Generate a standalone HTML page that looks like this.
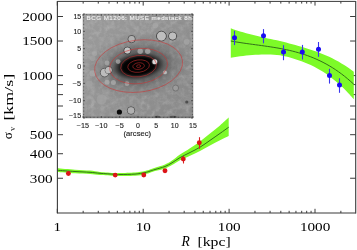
<!DOCTYPE html>
<html><head><meta charset="utf-8"><style>
html,body{margin:0;padding:0;background:#fff;width:357px;height:250px;overflow:hidden}
svg{display:block;will-change:transform}
.ax{font-family:"Liberation Serif",serif;font-size:12.8px;fill:#000}
.ins{font-family:"Liberation Sans",sans-serif;font-size:6.8px;fill:#222;stroke:#222;stroke-width:0.12px}
</style></head><body>
<svg width="357" height="250" viewBox="0 0 357 250">
<defs>
<radialGradient id="halo" cx="0.5" cy="0.5" r="0.5">
<stop offset="0" stop-color="#000"/>
<stop offset="0.55" stop-color="#040404"/>
<stop offset="0.7" stop-color="#262626"/>
<stop offset="0.85" stop-color="#4a4a4a" stop-opacity="0.8"/>
<stop offset="1" stop-color="#666" stop-opacity="0"/>
</radialGradient>
<radialGradient id="halo2" cx="0.5" cy="0.5" r="0.5">
<stop offset="0" stop-color="#000" stop-opacity="0.42"/>
<stop offset="0.55" stop-color="#000" stop-opacity="0.17"/>
<stop offset="1" stop-color="#000" stop-opacity="0"/>
</radialGradient>
<radialGradient id="src" cx="0.5" cy="0.5" r="0.5">
<stop offset="0" stop-color="#d8d8d8"/>
<stop offset="0.65" stop-color="#cfcfcf"/>
<stop offset="0.85" stop-color="#6a6a6a"/>
<stop offset="1" stop-color="#8a8a8a" stop-opacity="0"/>
</radialGradient>
<linearGradient id="bg" x1="0" y1="0.2" x2="1" y2="0.8">
<stop offset="0" stop-color="#9a9a9a"/>
<stop offset="1" stop-color="#888888"/>
</linearGradient>
<filter id="noise" x="0" y="0" width="1" height="1">
<feTurbulence type="fractalNoise" baseFrequency="0.2" numOctaves="3" seed="7" result="t"/>
<feColorMatrix type="matrix" values="0 0 0 0 0.35  0 0 0 0 0.35  0 0 0 0 0.35  0.3 0.3 0.3 0 -0.37" result="n"/>
<feComposite in="n" in2="SourceGraphic" operator="in"/>
</filter>
<filter id="noise2" x="0" y="0" width="1" height="1">
<feTurbulence type="fractalNoise" baseFrequency="0.2" numOctaves="3" seed="11" result="t"/>
<feColorMatrix type="matrix" values="0 0 0 0 0.85  0 0 0 0 0.85  0 0 0 0 0.85  0.25 0.25 0.25 0 -0.335" result="n"/>
<feComposite in="n" in2="SourceGraphic" operator="in"/>
</filter>
<radialGradient id="halo3" cx="0.5" cy="0.5" r="0.5">
<stop offset="0" stop-color="#000" stop-opacity="0.4"/>
<stop offset="0.6" stop-color="#000" stop-opacity="0.2"/>
<stop offset="1" stop-color="#000" stop-opacity="0"/>
</radialGradient>
<clipPath id="insclip"><rect x="83" y="14" width="110" height="104"/></clipPath>
</defs>

<line x1="57.30" y1="213.0" x2="57.30" y2="208.8" stroke="#3a3a3a" stroke-width="1"/>
<line x1="57.30" y1="1.4" x2="57.30" y2="5.6" stroke="#3a3a3a" stroke-width="1"/>
<line x1="83.16" y1="213.0" x2="83.16" y2="210.8" stroke="#3a3a3a" stroke-width="1"/>
<line x1="83.16" y1="1.4" x2="83.16" y2="3.6" stroke="#3a3a3a" stroke-width="1"/>
<line x1="98.28" y1="213.0" x2="98.28" y2="210.8" stroke="#3a3a3a" stroke-width="1"/>
<line x1="98.28" y1="1.4" x2="98.28" y2="3.6" stroke="#3a3a3a" stroke-width="1"/>
<line x1="109.02" y1="213.0" x2="109.02" y2="210.8" stroke="#3a3a3a" stroke-width="1"/>
<line x1="109.02" y1="1.4" x2="109.02" y2="3.6" stroke="#3a3a3a" stroke-width="1"/>
<line x1="117.34" y1="213.0" x2="117.34" y2="210.8" stroke="#3a3a3a" stroke-width="1"/>
<line x1="117.34" y1="1.4" x2="117.34" y2="3.6" stroke="#3a3a3a" stroke-width="1"/>
<line x1="124.14" y1="213.0" x2="124.14" y2="210.8" stroke="#3a3a3a" stroke-width="1"/>
<line x1="124.14" y1="1.4" x2="124.14" y2="3.6" stroke="#3a3a3a" stroke-width="1"/>
<line x1="129.89" y1="213.0" x2="129.89" y2="210.8" stroke="#3a3a3a" stroke-width="1"/>
<line x1="129.89" y1="1.4" x2="129.89" y2="3.6" stroke="#3a3a3a" stroke-width="1"/>
<line x1="134.88" y1="213.0" x2="134.88" y2="210.8" stroke="#3a3a3a" stroke-width="1"/>
<line x1="134.88" y1="1.4" x2="134.88" y2="3.6" stroke="#3a3a3a" stroke-width="1"/>
<line x1="139.27" y1="213.0" x2="139.27" y2="210.8" stroke="#3a3a3a" stroke-width="1"/>
<line x1="139.27" y1="1.4" x2="139.27" y2="3.6" stroke="#3a3a3a" stroke-width="1"/>
<line x1="143.20" y1="213.0" x2="143.20" y2="208.8" stroke="#3a3a3a" stroke-width="1"/>
<line x1="143.20" y1="1.4" x2="143.20" y2="5.6" stroke="#3a3a3a" stroke-width="1"/>
<line x1="169.06" y1="213.0" x2="169.06" y2="210.8" stroke="#3a3a3a" stroke-width="1"/>
<line x1="169.06" y1="1.4" x2="169.06" y2="3.6" stroke="#3a3a3a" stroke-width="1"/>
<line x1="184.18" y1="213.0" x2="184.18" y2="210.8" stroke="#3a3a3a" stroke-width="1"/>
<line x1="184.18" y1="1.4" x2="184.18" y2="3.6" stroke="#3a3a3a" stroke-width="1"/>
<line x1="194.92" y1="213.0" x2="194.92" y2="210.8" stroke="#3a3a3a" stroke-width="1"/>
<line x1="194.92" y1="1.4" x2="194.92" y2="3.6" stroke="#3a3a3a" stroke-width="1"/>
<line x1="203.24" y1="213.0" x2="203.24" y2="210.8" stroke="#3a3a3a" stroke-width="1"/>
<line x1="203.24" y1="1.4" x2="203.24" y2="3.6" stroke="#3a3a3a" stroke-width="1"/>
<line x1="210.04" y1="213.0" x2="210.04" y2="210.8" stroke="#3a3a3a" stroke-width="1"/>
<line x1="210.04" y1="1.4" x2="210.04" y2="3.6" stroke="#3a3a3a" stroke-width="1"/>
<line x1="215.79" y1="213.0" x2="215.79" y2="210.8" stroke="#3a3a3a" stroke-width="1"/>
<line x1="215.79" y1="1.4" x2="215.79" y2="3.6" stroke="#3a3a3a" stroke-width="1"/>
<line x1="220.78" y1="213.0" x2="220.78" y2="210.8" stroke="#3a3a3a" stroke-width="1"/>
<line x1="220.78" y1="1.4" x2="220.78" y2="3.6" stroke="#3a3a3a" stroke-width="1"/>
<line x1="225.17" y1="213.0" x2="225.17" y2="210.8" stroke="#3a3a3a" stroke-width="1"/>
<line x1="225.17" y1="1.4" x2="225.17" y2="3.6" stroke="#3a3a3a" stroke-width="1"/>
<line x1="229.10" y1="213.0" x2="229.10" y2="208.8" stroke="#3a3a3a" stroke-width="1"/>
<line x1="229.10" y1="1.4" x2="229.10" y2="5.6" stroke="#3a3a3a" stroke-width="1"/>
<line x1="254.96" y1="213.0" x2="254.96" y2="210.8" stroke="#3a3a3a" stroke-width="1"/>
<line x1="254.96" y1="1.4" x2="254.96" y2="3.6" stroke="#3a3a3a" stroke-width="1"/>
<line x1="270.08" y1="213.0" x2="270.08" y2="210.8" stroke="#3a3a3a" stroke-width="1"/>
<line x1="270.08" y1="1.4" x2="270.08" y2="3.6" stroke="#3a3a3a" stroke-width="1"/>
<line x1="280.82" y1="213.0" x2="280.82" y2="210.8" stroke="#3a3a3a" stroke-width="1"/>
<line x1="280.82" y1="1.4" x2="280.82" y2="3.6" stroke="#3a3a3a" stroke-width="1"/>
<line x1="289.14" y1="213.0" x2="289.14" y2="210.8" stroke="#3a3a3a" stroke-width="1"/>
<line x1="289.14" y1="1.4" x2="289.14" y2="3.6" stroke="#3a3a3a" stroke-width="1"/>
<line x1="295.94" y1="213.0" x2="295.94" y2="210.8" stroke="#3a3a3a" stroke-width="1"/>
<line x1="295.94" y1="1.4" x2="295.94" y2="3.6" stroke="#3a3a3a" stroke-width="1"/>
<line x1="301.69" y1="213.0" x2="301.69" y2="210.8" stroke="#3a3a3a" stroke-width="1"/>
<line x1="301.69" y1="1.4" x2="301.69" y2="3.6" stroke="#3a3a3a" stroke-width="1"/>
<line x1="306.68" y1="213.0" x2="306.68" y2="210.8" stroke="#3a3a3a" stroke-width="1"/>
<line x1="306.68" y1="1.4" x2="306.68" y2="3.6" stroke="#3a3a3a" stroke-width="1"/>
<line x1="311.07" y1="213.0" x2="311.07" y2="210.8" stroke="#3a3a3a" stroke-width="1"/>
<line x1="311.07" y1="1.4" x2="311.07" y2="3.6" stroke="#3a3a3a" stroke-width="1"/>
<line x1="315.00" y1="213.0" x2="315.00" y2="208.8" stroke="#3a3a3a" stroke-width="1"/>
<line x1="315.00" y1="1.4" x2="315.00" y2="5.6" stroke="#3a3a3a" stroke-width="1"/>
<line x1="340.86" y1="213.0" x2="340.86" y2="210.8" stroke="#3a3a3a" stroke-width="1"/>
<line x1="340.86" y1="1.4" x2="340.86" y2="3.6" stroke="#3a3a3a" stroke-width="1"/>
<line x1="57.4" y1="16.51" x2="63.0" y2="16.51" stroke="#3a3a3a" stroke-width="1"/>
<line x1="355.7" y1="16.51" x2="350.09999999999997" y2="16.51" stroke="#3a3a3a" stroke-width="1"/>
<line x1="57.4" y1="41.03" x2="63.0" y2="41.03" stroke="#3a3a3a" stroke-width="1"/>
<line x1="355.7" y1="41.03" x2="350.09999999999997" y2="41.03" stroke="#3a3a3a" stroke-width="1"/>
<line x1="57.4" y1="75.60" x2="63.0" y2="75.60" stroke="#3a3a3a" stroke-width="1"/>
<line x1="355.7" y1="75.60" x2="350.09999999999997" y2="75.60" stroke="#3a3a3a" stroke-width="1"/>
<line x1="57.4" y1="84.58" x2="63.0" y2="84.58" stroke="#3a3a3a" stroke-width="1"/>
<line x1="355.7" y1="84.58" x2="350.09999999999997" y2="84.58" stroke="#3a3a3a" stroke-width="1"/>
<line x1="57.4" y1="94.62" x2="63.0" y2="94.62" stroke="#3a3a3a" stroke-width="1"/>
<line x1="355.7" y1="94.62" x2="350.09999999999997" y2="94.62" stroke="#3a3a3a" stroke-width="1"/>
<line x1="57.4" y1="106.01" x2="63.0" y2="106.01" stroke="#3a3a3a" stroke-width="1"/>
<line x1="355.7" y1="106.01" x2="350.09999999999997" y2="106.01" stroke="#3a3a3a" stroke-width="1"/>
<line x1="57.4" y1="119.15" x2="63.0" y2="119.15" stroke="#3a3a3a" stroke-width="1"/>
<line x1="355.7" y1="119.15" x2="350.09999999999997" y2="119.15" stroke="#3a3a3a" stroke-width="1"/>
<line x1="57.4" y1="134.69" x2="63.0" y2="134.69" stroke="#3a3a3a" stroke-width="1"/>
<line x1="355.7" y1="134.69" x2="350.09999999999997" y2="134.69" stroke="#3a3a3a" stroke-width="1"/>
<line x1="57.4" y1="153.72" x2="63.0" y2="153.72" stroke="#3a3a3a" stroke-width="1"/>
<line x1="355.7" y1="153.72" x2="350.09999999999997" y2="153.72" stroke="#3a3a3a" stroke-width="1"/>
<line x1="57.4" y1="178.24" x2="63.0" y2="178.24" stroke="#3a3a3a" stroke-width="1"/>
<line x1="355.7" y1="178.24" x2="350.09999999999997" y2="178.24" stroke="#3a3a3a" stroke-width="1"/>
<polygon points="230.80,28.28 233.88,29.39 236.95,30.44 240.03,31.42 243.10,32.35 246.18,33.23 249.25,34.06 252.33,34.86 255.40,35.62 258.48,36.35 261.55,37.05 264.62,37.73 267.70,38.40 270.78,39.06 273.85,39.72 276.93,40.37 280.00,41.03 283.07,41.80 286.15,42.59 289.23,43.40 292.30,44.23 295.38,45.09 298.45,45.98 301.52,46.86 304.60,47.73 307.68,48.65 310.75,49.63 313.83,50.66 316.90,51.75 319.98,52.91 323.05,54.15 326.12,55.47 329.20,56.86 332.27,58.35 335.35,59.93 338.43,61.61 341.50,63.39 344.58,65.28 347.65,67.28 350.73,69.40 353.80,71.64 353.80,99.24 350.73,95.75 347.65,92.43 344.58,89.29 341.50,86.32 338.43,83.52 335.35,80.88 332.27,78.39 329.20,76.06 326.12,73.87 323.05,71.83 319.98,69.94 316.90,68.18 313.83,66.55 310.75,65.05 307.68,63.68 304.60,62.44 301.52,61.30 298.45,60.21 295.38,59.15 292.30,58.19 289.23,57.34 286.15,56.59 283.07,55.92 280.00,55.35 276.93,55.02 273.85,54.77 270.78,54.60 267.70,54.51 264.62,54.48 261.55,54.52 258.48,54.63 255.40,54.79 252.33,55.00 249.25,55.27 246.18,55.58 243.10,55.94 240.03,56.33 236.95,56.76 233.88,57.22 230.80,57.71" fill="#7dfa28"/>
<polyline points="230.80,41.00 233.88,41.55 236.95,42.07 240.03,42.56 243.10,43.03 246.18,43.47 249.25,43.90 252.33,44.32 255.40,44.74 258.48,45.15 261.55,45.57 264.62,46.00 267.70,46.44 270.78,46.90 273.85,47.39 276.93,47.90 280.00,48.45 283.07,49.03 286.15,49.66 289.23,50.34 292.30,51.07 295.38,51.86 298.45,52.71 301.52,53.63 304.60,54.62 307.68,55.69 310.75,56.84 313.83,58.08 316.90,59.41 319.98,60.83 323.05,62.36 326.12,63.99 329.20,65.74 332.27,67.60 335.35,69.58 338.43,71.69 341.50,73.93 344.58,76.30 347.65,78.82 350.73,81.48 353.80,84.29" fill="none" stroke="#32701a" stroke-width="1.0"/>
<path d="M57.00,168.30 C60.00,168.53 69.50,169.32 75.00,169.70 C80.50,170.08 85.83,170.23 90.00,170.60 C94.17,170.97 95.83,171.50 100.00,171.90 C104.17,172.30 111.67,172.80 115.00,173.00 C118.33,173.20 116.67,173.17 120.00,173.10 C123.33,173.03 130.83,172.95 135.00,172.60 C139.17,172.25 142.50,171.52 145.00,171.00 C147.50,170.48 148.33,170.03 150.00,169.50 C151.67,168.97 152.50,168.62 155.00,167.80 C157.50,166.98 162.17,165.80 165.00,164.60 C167.83,163.40 169.50,162.27 172.00,160.60 C174.50,158.93 177.00,156.67 180.00,154.60 C183.00,152.53 186.67,150.40 190.00,148.20 C193.33,146.00 196.67,143.83 200.00,141.40 C203.33,138.97 206.67,136.27 210.00,133.60 C213.33,130.93 216.88,128.07 220.00,125.40 C223.12,122.73 227.25,118.90 228.70,117.60 L228.70,136.00 C227.25,136.70 223.12,138.60 220.00,140.20 C216.88,141.80 213.33,143.80 210.00,145.60 C206.67,147.40 203.33,149.32 200.00,151.00 C196.67,152.68 193.33,154.17 190.00,155.70 C186.67,157.23 183.00,158.65 180.00,160.20 C177.00,161.75 174.50,163.63 172.00,165.00 C169.50,166.37 167.83,167.38 165.00,168.40 C162.17,169.42 157.50,170.38 155.00,171.10 C152.50,171.82 151.67,172.18 150.00,172.70 C148.33,173.22 147.50,173.68 145.00,174.20 C142.50,174.72 139.17,175.50 135.00,175.80 C130.83,176.10 123.33,176.00 120.00,176.00 C116.67,176.00 118.33,175.98 115.00,175.80 C111.67,175.62 104.17,175.20 100.00,174.90 C95.83,174.60 94.17,174.28 90.00,174.00 C85.83,173.72 80.50,173.55 75.00,173.20 C69.50,172.85 60.00,172.12 57.00,171.90 Z" fill="#7dfa28"/>
<path d="M57.00,170.30 C60.00,170.50 69.50,171.17 75.00,171.50 C80.50,171.83 85.83,172.00 90.00,172.30 C94.17,172.60 95.83,172.97 100.00,173.30 C104.17,173.63 111.67,174.10 115.00,174.30 C118.33,174.50 116.67,174.53 120.00,174.50 C123.33,174.47 130.83,174.42 135.00,174.10 C139.17,173.78 142.50,173.10 145.00,172.60 C147.50,172.10 148.33,171.62 150.00,171.10 C151.67,170.58 152.50,170.27 155.00,169.50 C157.50,168.73 162.17,167.62 165.00,166.50 C167.83,165.38 169.50,164.28 172.00,162.80 C174.50,161.32 177.00,159.32 180.00,157.60 C183.00,155.88 186.67,154.23 190.00,152.50 C193.33,150.77 196.67,149.22 200.00,147.20 C203.33,145.18 206.67,142.70 210.00,140.40 C213.33,138.10 216.88,135.60 220.00,133.40 C223.12,131.20 227.25,128.23 228.70,127.20" fill="none" stroke="#32701a" stroke-width="1.0"/>
<line x1="234.5" y1="30.8" x2="234.5" y2="45.1" stroke="#3a36ee" stroke-width="1.1"/>
<circle cx="234.5" cy="37.8" r="2.5" fill="#1a0cf2"/>
<line x1="263.5" y1="29.1" x2="263.5" y2="43.3" stroke="#3a36ee" stroke-width="1.1"/>
<circle cx="263.5" cy="35.7" r="2.5" fill="#1a0cf2"/>
<line x1="283.5" y1="45.2" x2="283.5" y2="60.2" stroke="#3a36ee" stroke-width="1.1"/>
<circle cx="283.5" cy="52.1" r="2.5" fill="#1a0cf2"/>
<line x1="302.5" y1="44.9" x2="302.5" y2="59.5" stroke="#3a36ee" stroke-width="1.1"/>
<circle cx="302.3" cy="51.9" r="2.5" fill="#1a0cf2"/>
<line x1="318.5" y1="42" x2="318.5" y2="56.8" stroke="#3a36ee" stroke-width="1.1"/>
<circle cx="318.5" cy="49.3" r="2.5" fill="#1a0cf2"/>
<line x1="329.5" y1="68.8" x2="329.5" y2="83.6" stroke="#3a36ee" stroke-width="1.1"/>
<circle cx="329.5" cy="75.6" r="2.5" fill="#1a0cf2"/>
<line x1="339.5" y1="78.3" x2="339.5" y2="92.8" stroke="#3a36ee" stroke-width="1.1"/>
<circle cx="339.5" cy="85.1" r="2.5" fill="#1a0cf2"/>
<circle cx="68.4" cy="173.5" r="2.45" fill="#dc1418"/>
<circle cx="115.2" cy="175.1" r="2.45" fill="#dc1418"/>
<circle cx="143.8" cy="175" r="2.45" fill="#dc1418"/>
<circle cx="165" cy="170.7" r="2.45" fill="#dc1418"/>
<line x1="183.5" y1="156" x2="183.5" y2="163.5" stroke="#d82020" stroke-width="1.1"/>
<circle cx="183.3" cy="159.1" r="2.45" fill="#dc1418"/>
<line x1="199.5" y1="137.2" x2="199.5" y2="148.8" stroke="#d82020" stroke-width="1.1"/>
<circle cx="199.3" cy="142.8" r="2.45" fill="#dc1418"/>
<g clip-path="url(#insclip)">
<rect x="83" y="14" width="110" height="104" fill="url(#bg)"/>
<rect x="83" y="14" width="110" height="104" fill="#888" filter="url(#noise)"/>
<rect x="83" y="14" width="110" height="104" fill="#888" filter="url(#noise2)"/>
<ellipse cx="138.6" cy="66.1" rx="54" ry="33" transform="rotate(-7 138.6 66.1)" fill="url(#halo2)"/>
<ellipse cx="139.1" cy="66.1" rx="37" ry="21.5" transform="rotate(-7 138.6 66.1)" fill="url(#halo3)"/>
<ellipse cx="138.6" cy="66.1" rx="28" ry="14.5" transform="rotate(-7 138.6 66.1)" fill="url(#halo)"/>
<circle cx="161.4" cy="36.1" r="4.8999999999999995" fill="none" stroke="#3c3c3c" stroke-width="0.9" opacity="0.95"/>
<circle cx="161.4" cy="36.1" r="4.3999999999999995" fill="#bebebe"/>
<circle cx="172.6" cy="36.1" r="4.0" fill="none" stroke="#3c3c3c" stroke-width="0.9" opacity="0.95"/>
<circle cx="172.6" cy="36.1" r="3.5" fill="#bebebe"/>
<circle cx="131.6" cy="39.1" r="3.5999999999999996" fill="none" stroke="#3c3c3c" stroke-width="0.9" opacity="0.85"/>
<circle cx="131.6" cy="39.1" r="3.0999999999999996" fill="#b0b0b0"/>
<circle cx="127.4" cy="50.6" r="3.5" fill="none" stroke="#3c3c3c" stroke-width="0.9" opacity="0.9"/>
<circle cx="127.4" cy="50.6" r="3.0" fill="#c4c4c4"/>
<circle cx="140.2" cy="51.2" r="2.7" fill="#b4b4b4" opacity="0.7"/>
<circle cx="147.7" cy="51.2" r="2.7" fill="#b4b4b4" opacity="0.7"/>
<circle cx="154.8" cy="61.8" r="3.0" fill="none" stroke="#3c3c3c" stroke-width="0.9" opacity="0.8"/>
<circle cx="154.8" cy="61.8" r="2.5" fill="#d8d8d8"/>
<circle cx="118.1" cy="61.6" r="2.4" fill="#b2b2b2" opacity="0.7"/>
<circle cx="155.3" cy="25.6" r="2.8" fill="#a8a8a8" opacity="0.7"/>
<circle cx="186.7" cy="41.9" r="2.8" fill="#a8a8a8" opacity="0.7"/>
<circle cx="94.5" cy="53.6" r="2.6" fill="#a8a8a8" opacity="0.7"/>
<circle cx="107" cy="63" r="2.4" fill="#acacac" opacity="0.7"/>
<circle cx="92.6" cy="73.4" r="3.2" fill="#acacac" opacity="0.7"/>
<circle cx="104.6" cy="72.6" r="4.3" fill="none" stroke="#3c3c3c" stroke-width="0.9" opacity="0.6"/>
<circle cx="104.6" cy="72.6" r="3.8" fill="#bcbcbc"/>
<circle cx="108.6" cy="70.2" r="3.5999999999999996" fill="none" stroke="#3c3c3c" stroke-width="0.9" opacity="0.6"/>
<circle cx="108.6" cy="70.2" r="3.0999999999999996" fill="#bcbcbc"/>
<circle cx="89.4" cy="83.8" r="3.2" fill="#a4a4a4" opacity="0.7"/>
<circle cx="92.6" cy="58.2" r="2.8" fill="#a2a2a2" opacity="0.7"/>
<circle cx="107" cy="82.2" r="2.5" fill="#b0b0b0" opacity="0.7"/>
<circle cx="113.4" cy="82.5" r="2.5" fill="#b0b0b0" opacity="0.7"/>
<circle cx="127" cy="83.7" r="2.4" fill="#aeaeae" opacity="0.7"/>
<circle cx="131" cy="110.5" r="3.6999999999999997" fill="none" stroke="#3c3c3c" stroke-width="0.9" opacity="0.8"/>
<circle cx="131" cy="110.5" r="3.1999999999999997" fill="#b0b0b0"/>
<circle cx="176" cy="88" r="2.6" fill="#a0a0a0" opacity="0.7"/>
<circle cx="165" cy="72.4" r="1.9" fill="#d6d6d6" opacity="0.7"/>
<circle cx="101.6" cy="99.4" r="5" fill="#a2a2a2" opacity="0.7"/>
<circle cx="119.4" cy="112" r="2.6" fill="#0a0a0a"/>
<circle cx="186.8" cy="102" r="1.6" fill="#3a3a3a" opacity="0.75"/>
<circle cx="175.6" cy="88" r="3" fill="#9c9c9c" stroke="#555" stroke-width="0.7" opacity="0.7"/>
<rect x="83" y="116.2" width="110" height="1.8" fill="#555" opacity="0.35"/>
<ellipse cx="157.5" cy="117" rx="3" ry="1.2" fill="#333" opacity="0.6"/>
<ellipse cx="173" cy="117" rx="3.5" ry="1.2" fill="#333" opacity="0.6"/>
<ellipse cx="138.6" cy="66.1" rx="2.1" ry="1.3" transform="rotate(-7 138.6 66.1)" fill="none" stroke="#d03030" stroke-width="0.65" opacity="0.8"/>
<ellipse cx="138.6" cy="66.1" rx="5.8" ry="3.3" transform="rotate(-7 138.6 66.1)" fill="none" stroke="#d03030" stroke-width="0.65" opacity="0.8"/>
<ellipse cx="138.6" cy="66.1" rx="10.9" ry="6.2" transform="rotate(-7 138.6 66.1)" fill="none" stroke="#d03030" stroke-width="0.65" opacity="0.8"/>
<ellipse cx="138.6" cy="66.1" rx="18" ry="10.7" transform="rotate(-7 138.6 66.1)" fill="none" stroke="#d03030" stroke-width="0.65" opacity="0.8"/>
<ellipse cx="138.6" cy="66.1" rx="29" ry="17.5" transform="rotate(-7 138.6 66.1)" fill="none" stroke="#d03030" stroke-width="0.65" opacity="0.8"/>
<ellipse cx="138.6" cy="66.1" rx="44.2" ry="26" transform="rotate(-7 138.6 66.1)" fill="none" stroke="#d03030" stroke-width="0.65" opacity="0.8"/>
<text x="86.6" y="20.2" textLength="105" lengthAdjust="spacing" style="font-family:'Liberation Sans',sans-serif;font-size:6.2px;fill:#f0f0f0;stroke:#f0f0f0;stroke-width:0.15px">BCG M1206: MUSE medstack 8h</text>
</g>
<rect x="83" y="14" width="110" height="104" fill="none" stroke="#666" stroke-width="0.4"/>
<line x1="86.7" y1="118" x2="86.7" y2="116.8" stroke="#333" stroke-width="0.5"/>
<line x1="86.7" y1="14" x2="86.7" y2="15.2" stroke="#333" stroke-width="0.5"/>
<line x1="83" y1="114.5" x2="84.2" y2="114.5" stroke="#333" stroke-width="0.5"/>
<line x1="193" y1="114.5" x2="191.8" y2="114.5" stroke="#333" stroke-width="0.5"/>
<line x1="90.3" y1="118" x2="90.3" y2="116.8" stroke="#333" stroke-width="0.5"/>
<line x1="90.3" y1="14" x2="90.3" y2="15.2" stroke="#333" stroke-width="0.5"/>
<line x1="83" y1="111.1" x2="84.2" y2="111.1" stroke="#333" stroke-width="0.5"/>
<line x1="193" y1="111.1" x2="191.8" y2="111.1" stroke="#333" stroke-width="0.5"/>
<line x1="94.0" y1="118" x2="94.0" y2="116.8" stroke="#333" stroke-width="0.5"/>
<line x1="94.0" y1="14" x2="94.0" y2="15.2" stroke="#333" stroke-width="0.5"/>
<line x1="83" y1="107.6" x2="84.2" y2="107.6" stroke="#333" stroke-width="0.5"/>
<line x1="193" y1="107.6" x2="191.8" y2="107.6" stroke="#333" stroke-width="0.5"/>
<line x1="97.7" y1="118" x2="97.7" y2="116.8" stroke="#333" stroke-width="0.5"/>
<line x1="97.7" y1="14" x2="97.7" y2="15.2" stroke="#333" stroke-width="0.5"/>
<line x1="83" y1="104.1" x2="84.2" y2="104.1" stroke="#333" stroke-width="0.5"/>
<line x1="193" y1="104.1" x2="191.8" y2="104.1" stroke="#333" stroke-width="0.5"/>
<line x1="105.0" y1="118" x2="105.0" y2="116.8" stroke="#333" stroke-width="0.5"/>
<line x1="105.0" y1="14" x2="105.0" y2="15.2" stroke="#333" stroke-width="0.5"/>
<line x1="83" y1="97.2" x2="84.2" y2="97.2" stroke="#333" stroke-width="0.5"/>
<line x1="193" y1="97.2" x2="191.8" y2="97.2" stroke="#333" stroke-width="0.5"/>
<line x1="108.7" y1="118" x2="108.7" y2="116.8" stroke="#333" stroke-width="0.5"/>
<line x1="108.7" y1="14" x2="108.7" y2="15.2" stroke="#333" stroke-width="0.5"/>
<line x1="83" y1="93.7" x2="84.2" y2="93.7" stroke="#333" stroke-width="0.5"/>
<line x1="193" y1="93.7" x2="191.8" y2="93.7" stroke="#333" stroke-width="0.5"/>
<line x1="112.3" y1="118" x2="112.3" y2="116.8" stroke="#333" stroke-width="0.5"/>
<line x1="112.3" y1="14" x2="112.3" y2="15.2" stroke="#333" stroke-width="0.5"/>
<line x1="83" y1="90.3" x2="84.2" y2="90.3" stroke="#333" stroke-width="0.5"/>
<line x1="193" y1="90.3" x2="191.8" y2="90.3" stroke="#333" stroke-width="0.5"/>
<line x1="116.0" y1="118" x2="116.0" y2="116.8" stroke="#333" stroke-width="0.5"/>
<line x1="116.0" y1="14" x2="116.0" y2="15.2" stroke="#333" stroke-width="0.5"/>
<line x1="83" y1="86.8" x2="84.2" y2="86.8" stroke="#333" stroke-width="0.5"/>
<line x1="193" y1="86.8" x2="191.8" y2="86.8" stroke="#333" stroke-width="0.5"/>
<line x1="123.3" y1="118" x2="123.3" y2="116.8" stroke="#333" stroke-width="0.5"/>
<line x1="123.3" y1="14" x2="123.3" y2="15.2" stroke="#333" stroke-width="0.5"/>
<line x1="83" y1="79.9" x2="84.2" y2="79.9" stroke="#333" stroke-width="0.5"/>
<line x1="193" y1="79.9" x2="191.8" y2="79.9" stroke="#333" stroke-width="0.5"/>
<line x1="127.0" y1="118" x2="127.0" y2="116.8" stroke="#333" stroke-width="0.5"/>
<line x1="127.0" y1="14" x2="127.0" y2="15.2" stroke="#333" stroke-width="0.5"/>
<line x1="83" y1="76.4" x2="84.2" y2="76.4" stroke="#333" stroke-width="0.5"/>
<line x1="193" y1="76.4" x2="191.8" y2="76.4" stroke="#333" stroke-width="0.5"/>
<line x1="130.7" y1="118" x2="130.7" y2="116.8" stroke="#333" stroke-width="0.5"/>
<line x1="130.7" y1="14" x2="130.7" y2="15.2" stroke="#333" stroke-width="0.5"/>
<line x1="83" y1="72.9" x2="84.2" y2="72.9" stroke="#333" stroke-width="0.5"/>
<line x1="193" y1="72.9" x2="191.8" y2="72.9" stroke="#333" stroke-width="0.5"/>
<line x1="134.3" y1="118" x2="134.3" y2="116.8" stroke="#333" stroke-width="0.5"/>
<line x1="134.3" y1="14" x2="134.3" y2="15.2" stroke="#333" stroke-width="0.5"/>
<line x1="83" y1="69.5" x2="84.2" y2="69.5" stroke="#333" stroke-width="0.5"/>
<line x1="193" y1="69.5" x2="191.8" y2="69.5" stroke="#333" stroke-width="0.5"/>
<line x1="141.7" y1="118" x2="141.7" y2="116.8" stroke="#333" stroke-width="0.5"/>
<line x1="141.7" y1="14" x2="141.7" y2="15.2" stroke="#333" stroke-width="0.5"/>
<line x1="83" y1="62.5" x2="84.2" y2="62.5" stroke="#333" stroke-width="0.5"/>
<line x1="193" y1="62.5" x2="191.8" y2="62.5" stroke="#333" stroke-width="0.5"/>
<line x1="145.3" y1="118" x2="145.3" y2="116.8" stroke="#333" stroke-width="0.5"/>
<line x1="145.3" y1="14" x2="145.3" y2="15.2" stroke="#333" stroke-width="0.5"/>
<line x1="83" y1="59.1" x2="84.2" y2="59.1" stroke="#333" stroke-width="0.5"/>
<line x1="193" y1="59.1" x2="191.8" y2="59.1" stroke="#333" stroke-width="0.5"/>
<line x1="149.0" y1="118" x2="149.0" y2="116.8" stroke="#333" stroke-width="0.5"/>
<line x1="149.0" y1="14" x2="149.0" y2="15.2" stroke="#333" stroke-width="0.5"/>
<line x1="83" y1="55.6" x2="84.2" y2="55.6" stroke="#333" stroke-width="0.5"/>
<line x1="193" y1="55.6" x2="191.8" y2="55.6" stroke="#333" stroke-width="0.5"/>
<line x1="152.7" y1="118" x2="152.7" y2="116.8" stroke="#333" stroke-width="0.5"/>
<line x1="152.7" y1="14" x2="152.7" y2="15.2" stroke="#333" stroke-width="0.5"/>
<line x1="83" y1="52.1" x2="84.2" y2="52.1" stroke="#333" stroke-width="0.5"/>
<line x1="193" y1="52.1" x2="191.8" y2="52.1" stroke="#333" stroke-width="0.5"/>
<line x1="160.0" y1="118" x2="160.0" y2="116.8" stroke="#333" stroke-width="0.5"/>
<line x1="160.0" y1="14" x2="160.0" y2="15.2" stroke="#333" stroke-width="0.5"/>
<line x1="83" y1="45.2" x2="84.2" y2="45.2" stroke="#333" stroke-width="0.5"/>
<line x1="193" y1="45.2" x2="191.8" y2="45.2" stroke="#333" stroke-width="0.5"/>
<line x1="163.7" y1="118" x2="163.7" y2="116.8" stroke="#333" stroke-width="0.5"/>
<line x1="163.7" y1="14" x2="163.7" y2="15.2" stroke="#333" stroke-width="0.5"/>
<line x1="83" y1="41.7" x2="84.2" y2="41.7" stroke="#333" stroke-width="0.5"/>
<line x1="193" y1="41.7" x2="191.8" y2="41.7" stroke="#333" stroke-width="0.5"/>
<line x1="167.3" y1="118" x2="167.3" y2="116.8" stroke="#333" stroke-width="0.5"/>
<line x1="167.3" y1="14" x2="167.3" y2="15.2" stroke="#333" stroke-width="0.5"/>
<line x1="83" y1="38.3" x2="84.2" y2="38.3" stroke="#333" stroke-width="0.5"/>
<line x1="193" y1="38.3" x2="191.8" y2="38.3" stroke="#333" stroke-width="0.5"/>
<line x1="171.0" y1="118" x2="171.0" y2="116.8" stroke="#333" stroke-width="0.5"/>
<line x1="171.0" y1="14" x2="171.0" y2="15.2" stroke="#333" stroke-width="0.5"/>
<line x1="83" y1="34.8" x2="84.2" y2="34.8" stroke="#333" stroke-width="0.5"/>
<line x1="193" y1="34.8" x2="191.8" y2="34.8" stroke="#333" stroke-width="0.5"/>
<line x1="178.3" y1="118" x2="178.3" y2="116.8" stroke="#333" stroke-width="0.5"/>
<line x1="178.3" y1="14" x2="178.3" y2="15.2" stroke="#333" stroke-width="0.5"/>
<line x1="83" y1="27.9" x2="84.2" y2="27.9" stroke="#333" stroke-width="0.5"/>
<line x1="193" y1="27.9" x2="191.8" y2="27.9" stroke="#333" stroke-width="0.5"/>
<line x1="182.0" y1="118" x2="182.0" y2="116.8" stroke="#333" stroke-width="0.5"/>
<line x1="182.0" y1="14" x2="182.0" y2="15.2" stroke="#333" stroke-width="0.5"/>
<line x1="83" y1="24.4" x2="84.2" y2="24.4" stroke="#333" stroke-width="0.5"/>
<line x1="193" y1="24.4" x2="191.8" y2="24.4" stroke="#333" stroke-width="0.5"/>
<line x1="185.7" y1="118" x2="185.7" y2="116.8" stroke="#333" stroke-width="0.5"/>
<line x1="185.7" y1="14" x2="185.7" y2="15.2" stroke="#333" stroke-width="0.5"/>
<line x1="83" y1="20.9" x2="84.2" y2="20.9" stroke="#333" stroke-width="0.5"/>
<line x1="193" y1="20.9" x2="191.8" y2="20.9" stroke="#333" stroke-width="0.5"/>
<line x1="189.3" y1="118" x2="189.3" y2="116.8" stroke="#333" stroke-width="0.5"/>
<line x1="189.3" y1="14" x2="189.3" y2="15.2" stroke="#333" stroke-width="0.5"/>
<line x1="83" y1="17.5" x2="84.2" y2="17.5" stroke="#333" stroke-width="0.5"/>
<line x1="193" y1="17.5" x2="191.8" y2="17.5" stroke="#333" stroke-width="0.5"/>
<line x1="83.0" y1="118" x2="83.0" y2="116" stroke="#222" stroke-width="0.6"/>
<line x1="83.0" y1="14" x2="83.0" y2="16" stroke="#222" stroke-width="0.6"/>
<line x1="83" y1="118.0" x2="85" y2="118.0" stroke="#222" stroke-width="0.6"/>
<line x1="193" y1="118.0" x2="191" y2="118.0" stroke="#222" stroke-width="0.6"/>
<text class="ins" x="83.0" y="127.7" text-anchor="middle" textLength="12.3" lengthAdjust="spacingAndGlyphs">−15</text>
<text class="ins" x="81.2" y="118.4" text-anchor="end" textLength="12.3" lengthAdjust="spacingAndGlyphs">−15</text>
<line x1="101.3" y1="118" x2="101.3" y2="116" stroke="#222" stroke-width="0.6"/>
<line x1="101.3" y1="14" x2="101.3" y2="16" stroke="#222" stroke-width="0.6"/>
<line x1="83" y1="100.7" x2="85" y2="100.7" stroke="#222" stroke-width="0.6"/>
<line x1="193" y1="100.7" x2="191" y2="100.7" stroke="#222" stroke-width="0.6"/>
<text class="ins" x="101.3" y="127.7" text-anchor="middle" textLength="12.3" lengthAdjust="spacingAndGlyphs">−10</text>
<text class="ins" x="81.2" y="103.4" text-anchor="end" textLength="12.3" lengthAdjust="spacingAndGlyphs">−10</text>
<line x1="119.7" y1="118" x2="119.7" y2="116" stroke="#222" stroke-width="0.6"/>
<line x1="119.7" y1="14" x2="119.7" y2="16" stroke="#222" stroke-width="0.6"/>
<line x1="83" y1="83.3" x2="85" y2="83.3" stroke="#222" stroke-width="0.6"/>
<line x1="193" y1="83.3" x2="191" y2="83.3" stroke="#222" stroke-width="0.6"/>
<text class="ins" x="119.7" y="127.7" text-anchor="middle" textLength="8.4" lengthAdjust="spacingAndGlyphs">−5</text>
<text class="ins" x="81.2" y="86.0" text-anchor="end" textLength="8.4" lengthAdjust="spacingAndGlyphs">−5</text>
<line x1="138.0" y1="118" x2="138.0" y2="116" stroke="#222" stroke-width="0.6"/>
<line x1="138.0" y1="14" x2="138.0" y2="16" stroke="#222" stroke-width="0.6"/>
<line x1="83" y1="66.0" x2="85" y2="66.0" stroke="#222" stroke-width="0.6"/>
<line x1="193" y1="66.0" x2="191" y2="66.0" stroke="#222" stroke-width="0.6"/>
<text class="ins" x="138.0" y="127.7" text-anchor="middle" textLength="3.9" lengthAdjust="spacingAndGlyphs">0</text>
<text class="ins" x="81.2" y="68.7" text-anchor="end" textLength="3.9" lengthAdjust="spacingAndGlyphs">0</text>
<line x1="156.3" y1="118" x2="156.3" y2="116" stroke="#222" stroke-width="0.6"/>
<line x1="156.3" y1="14" x2="156.3" y2="16" stroke="#222" stroke-width="0.6"/>
<line x1="83" y1="48.7" x2="85" y2="48.7" stroke="#222" stroke-width="0.6"/>
<line x1="193" y1="48.7" x2="191" y2="48.7" stroke="#222" stroke-width="0.6"/>
<text class="ins" x="156.3" y="127.7" text-anchor="middle" textLength="3.9" lengthAdjust="spacingAndGlyphs">5</text>
<text class="ins" x="81.2" y="51.4" text-anchor="end" textLength="3.9" lengthAdjust="spacingAndGlyphs">5</text>
<line x1="174.7" y1="118" x2="174.7" y2="116" stroke="#222" stroke-width="0.6"/>
<line x1="174.7" y1="14" x2="174.7" y2="16" stroke="#222" stroke-width="0.6"/>
<line x1="83" y1="31.3" x2="85" y2="31.3" stroke="#222" stroke-width="0.6"/>
<line x1="193" y1="31.3" x2="191" y2="31.3" stroke="#222" stroke-width="0.6"/>
<text class="ins" x="174.7" y="127.7" text-anchor="middle" textLength="7.8" lengthAdjust="spacingAndGlyphs">10</text>
<text class="ins" x="81.2" y="34.0" text-anchor="end" textLength="7.8" lengthAdjust="spacingAndGlyphs">10</text>
<line x1="193.0" y1="118" x2="193.0" y2="116" stroke="#222" stroke-width="0.6"/>
<line x1="193.0" y1="14" x2="193.0" y2="16" stroke="#222" stroke-width="0.6"/>
<line x1="83" y1="14.0" x2="85" y2="14.0" stroke="#222" stroke-width="0.6"/>
<line x1="193" y1="14.0" x2="191" y2="14.0" stroke="#222" stroke-width="0.6"/>
<text class="ins" x="193.0" y="127.7" text-anchor="middle" textLength="7.8" lengthAdjust="spacingAndGlyphs">15</text>
<text class="ins" x="81.2" y="18.5" text-anchor="end" textLength="7.8" lengthAdjust="spacingAndGlyphs">15</text>
<text class="ins" x="137.3" y="136.4" text-anchor="middle" textLength="27.5" lengthAdjust="spacingAndGlyphs">(arcsec)</text>
<line x1="57.4" y1="1.4" x2="355.7" y2="1.4" stroke="#3a3a3a" stroke-width="1"/>
<line x1="57.4" y1="213.0" x2="355.7" y2="213.0" stroke="#3a3a3a" stroke-width="1.1"/>
<line x1="57.4" y1="0.8999999999999999" x2="57.4" y2="213.5" stroke="#3a3a3a" stroke-width="1.1"/>
<line x1="355.7" y1="0.8999999999999999" x2="355.7" y2="213.5" stroke="#3a3a3a" stroke-width="1.1"/>
<text class="ax" x="52.6" y="20.9" text-anchor="end" textLength="30.4" lengthAdjust="spacingAndGlyphs">2000</text>
<text class="ax" x="52.6" y="45.4" text-anchor="end" textLength="30.4" lengthAdjust="spacingAndGlyphs">1500</text>
<text class="ax" x="52.6" y="80.0" text-anchor="end" textLength="30.4" lengthAdjust="spacingAndGlyphs">1000</text>
<text class="ax" x="52.6" y="139.1" text-anchor="end" textLength="22.8" lengthAdjust="spacingAndGlyphs">500</text>
<text class="ax" x="52.6" y="158.1" text-anchor="end" textLength="22.8" lengthAdjust="spacingAndGlyphs">400</text>
<text class="ax" x="52.6" y="182.6" text-anchor="end" textLength="22.8" lengthAdjust="spacingAndGlyphs">300</text>
<text class="ax" x="57.4" y="231" text-anchor="middle" textLength="7.6" lengthAdjust="spacingAndGlyphs">1</text>
<text class="ax" x="143.3" y="231" text-anchor="middle" textLength="15.2" lengthAdjust="spacingAndGlyphs">10</text>
<text class="ax" x="229.2" y="231" text-anchor="middle" textLength="22.8" lengthAdjust="spacingAndGlyphs">100</text>
<text class="ax" x="315.1" y="231" text-anchor="middle" textLength="30.4" lengthAdjust="spacingAndGlyphs">1000</text>
<text class="ax" x="181.6" y="246.1" font-style="italic" style="font-size:13.6px">R</text>
<text class="ax" x="197.4" y="246.2" textLength="33.3" lengthAdjust="spacingAndGlyphs">[kpc]</text>
<g transform="translate(12.5,140) rotate(-90)">
<text class="ax" x="0.8" y="-0.2" style="font-size:13.2px">σ</text>
<text class="ax" x="9" y="2.1" style="font-size:8.5px">v</text>
<text class="ax" x="19.4" y="0" textLength="46.8" lengthAdjust="spacingAndGlyphs" style="font-size:13.2px">[km/s]</text>
</g>
</svg></body></html>
